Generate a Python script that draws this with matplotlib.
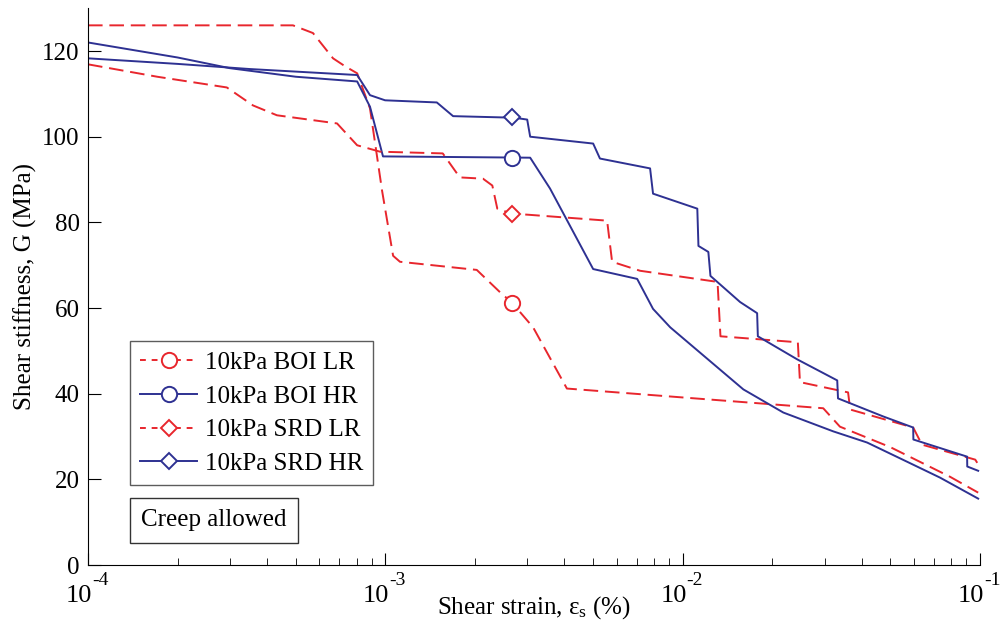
import matplotlib
matplotlib.use("Agg")
import matplotlib.pyplot as plt
from matplotlib.ticker import FixedLocator, NullFormatter

plt.rcParams['font.family'] = ['Liberation Serif', 'DejaVu Serif']
plt.rcParams['mathtext.fontset'] = 'custom'
plt.rcParams['mathtext.rm'] = 'Liberation Serif'
plt.rcParams['mathtext.it'] = 'Liberation Serif:italic'

RED = '#e8262d'
BLUE = '#2e3192'

# 10kPa BOI LR (red dashed, circle)
boi_lr_x = [1.0e-4, 4.89e-4, 5.71e-4, 6.67e-4, 7.3e-4, 8.04e-4, 8.88e-4, 9.75e-4, 1.062e-3,
            1.12e-3, 2.03e-3, 2.43e-3, 2.67e-3, 3.14e-3, 4.08e-3, 2.97e-2, 3.38e-2,
            5.0e-2, 7.93e-2, 9.86e-2]
boi_lr_g = [126.0, 126.0, 124.2, 118.3, 116.5, 114.8, 106.6, 87.4, 72.2,
            70.8, 68.9, 63.7, 61.2, 55.5, 41.2, 36.6, 32.3,
            27.5, 20.6, 16.9]

# 10kPa BOI HR (blue solid, circle)
boi_hr_x = [1.0e-4, 2.0e-4, 3.0e-4, 5.0e-4, 8.04e-4, 8.88e-4, 9.82e-4, 3.07e-3, 3.58e-3,
            5.0e-3, 7.03e-3, 7.95e-3, 9.08e-3, 1.6e-2, 2.18e-2, 3.21e-2, 4.17e-2,
            5.69e-2, 7.34e-2, 9.86e-2]
boi_hr_g = [122.0, 118.5, 116.0, 114.0, 112.9, 107.0, 95.4, 95.1, 87.9,
            69.1, 66.8, 59.8, 55.5, 41.0, 35.6, 31.2, 28.6,
            24.1, 20.4, 15.5]

# 10kPa SRD LR (red dashed, diamond)
srd_lr_x = [1.0e-4, 1.71e-4, 2.93e-4, 3.59e-4, 4.32e-4, 6.88e-4, 8.04e-4, 9.6e-4, 1.56e-3,
            1.78e-3, 2.13e-3, 2.29e-3, 2.38e-3, 2.67e-3, 3.0e-3, 5.57e-3, 5.79e-3,
            7.19e-3, 1.31e-2, 1.34e-2, 2.44e-2, 2.48e-2, 3.6e-2, 3.66e-2, 5.96e-2,
            6.38e-2, 9.64e-2, 9.86e-2]
srd_lr_g = [116.9, 114.0, 111.5, 107.3, 105.0, 103.1, 98.0, 96.5, 96.1,
            90.5, 90.2, 88.6, 83.2, 82.0, 81.8, 80.4, 70.8,
            68.7, 66.1, 53.4, 52.0, 42.7, 40.3, 36.3, 32.1,
            28.1, 24.6, 23.5]

# 10kPa SRD HR (blue solid, diamond)
srd_hr_x = [1.0e-4, 2.0e-4, 3.5e-4, 8.04e-4, 8.88e-4, 9.98e-4, 1.49e-3, 1.69e-3, 2.49e-3,
            2.67e-3, 3.0e-3, 3.07e-3, 5.0e-3, 5.27e-3, 7.77e-3, 7.95e-3, 1.12e-2,
            1.13e-2, 1.22e-2, 1.24e-2, 1.56e-2, 1.78e-2, 1.79e-2, 2.43e-2, 3.31e-2,
            3.33e-2, 4.72e-2, 5.96e-2, 5.97e-2, 9.05e-2, 9.06e-2, 9.86e-2]
srd_hr_g = [118.3, 117.0, 115.8, 114.4, 109.7, 108.5, 108.0, 104.8, 104.5,
            104.5, 104.0, 100.0, 98.4, 94.9, 92.6, 86.7, 83.2,
            74.5, 73.1, 67.5, 61.4, 58.8, 53.4, 48.0, 43.1,
            38.9, 34.7, 32.1, 29.3, 25.3, 23.0, 22.0]

# single marker on each curve
marker_x = [2.67e-3, 2.67e-3, 2.67e-3, 2.67e-3]
marker_g = [61.2, 95.1, 82.0, 104.5]
labels = ['10kPa BOI LR', '10kPa BOI HR', '10kPa SRD LR', '10kPa SRD HR']
x_ticks = [1e-4, 1e-3, 1e-2, 1e-1]
x_exps = ['-4', '-3', '-2', '-1']

fig = plt.figure(figsize=(10, 6.32), dpi=100)
ax = fig.add_axes([0.088, 0.106, 0.892, 0.881])

dash = (7.5, 3.5)
series = [
    (boi_lr_x, boi_lr_g, RED, '--', 'o'),
    (boi_hr_x, boi_hr_g, BLUE, '-', 'o'),
    (srd_lr_x, srd_lr_g, RED, '--', 'D'),
    (srd_hr_x, srd_hr_g, BLUE, '-', 'D'),
]
handles = []
for i, ((x, g, c, ls, m), lab) in enumerate(zip(series, labels)):
    ms = 11 if m == 'o' else 8.5
    line, = ax.plot(x, g, color=c, linestyle=ls, linewidth=1.4)
    if ls == '--':
        line.set_dashes(dash)
    ax.plot([marker_x[i]], [marker_g[i]], linestyle='none', marker=m, markersize=ms,
            markerfacecolor='white', markeredgecolor=c, markeredgewidth=1.4)
    h, = ax.plot([], [], color=c, linestyle=ls, linewidth=1.4, marker=m,
                 markersize=ms, markerfacecolor='white',
                 markeredgecolor=c, markeredgewidth=1.4)
    if ls == '--':
        h.set_dashes((3, 3))
    handles.append(h)

ax.set_xscale('log')
ax.set_xlim(1e-4, 1e-1)
ax.set_ylim(0, 130)
ax.set_yticks([0, 20, 40, 60, 80, 100, 120])
ax.xaxis.set_major_locator(FixedLocator(x_ticks))
ax.xaxis.set_major_formatter(NullFormatter())

# MATLAB-style decade labels: "10" with a raised hyphen exponent
for v, e in zip(x_ticks, x_exps):
    ax.annotate('10', xy=(v, 0), xycoords=('data', 'axes fraction'),
                xytext=(-9, -37), textcoords='offset pixels',
                ha='center', va='baseline', fontsize=19, annotation_clip=False)
    ax.annotate(e, xy=(v, 0), xycoords=('data', 'axes fraction'),
                xytext=(4, -20), textcoords='offset pixels',
                ha='left', va='baseline', fontsize=14, annotation_clip=False)

for s in ['top', 'right']:
    ax.spines[s].set_visible(False)
ax.tick_params(which='both', direction='in', labelsize=18, top=False, right=False)
ax.tick_params(which='major', length=9, width=0.8, pad=6)
ax.tick_params(which='minor', length=5, width=0.6)
ax.tick_params(axis='y', which='minor', left=False)

ax.set_xlabel('Shear strain, ε$_\\mathregular{s}$ (%)', fontsize=18)
ax.xaxis.set_label_coords(0.5, -0.053)
ax.set_ylabel('Shear stiffness, G (MPa)', fontsize=18, labelpad=4)

leg = ax.legend(handles, labels, loc='lower left', bbox_to_anchor=(0.047, 0.1436),
                borderaxespad=0, fontsize=18, fancybox=False, edgecolor='#333333',
                handlelength=2.3, handletextpad=0.3, borderpad=0.4, labelspacing=0.45)
leg.get_frame().set_linewidth(1.0)

ax.text(0.0594, 0.08, 'Creep allowed', transform=ax.transAxes, fontsize=18,
        ha='left', va='center',
        bbox=dict(boxstyle='square,pad=0.45', facecolor='white', edgecolor='#333333', linewidth=1.0))

fig.savefig('out.png', dpi=100)
